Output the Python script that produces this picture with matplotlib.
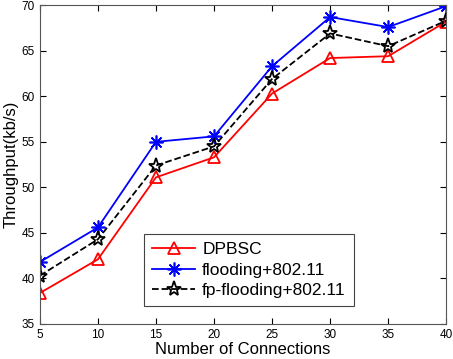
import matplotlib
matplotlib.use("Agg")
import matplotlib.pyplot as plt

plt.rcParams['font.family'] = ['Liberation Sans', 'DejaVu Sans']

connections = [5, 10, 15, 20, 25, 30, 35, 40]
dpbsc = [38.4, 42.1, 51.1, 53.3, 60.3, 64.2, 64.4, 68.2]
flooding = [41.8, 45.6, 55.0, 55.6, 63.3, 68.7, 67.6, 69.9]
fp_flooding = [40.3, 44.3, 52.4, 54.5, 61.9, 66.9, 65.5, 68.3]
labels = ['DPBSC', 'flooding+802.11', 'fp-flooding+802.11']

fig = plt.figure(figsize=(4.53, 3.59), dpi=100)
ax = fig.add_axes([0.088, 0.0975, 0.897, 0.888])

ax.plot(connections, dpbsc, color='red', marker='^', markersize=8,
        markerfacecolor='none', markeredgewidth=1.3, linewidth=1.3, label=labels[0])
ax.plot(connections, flooding, color='blue', marker=(8, 2, 0), markersize=10,
        markerfacecolor='none', markeredgewidth=1.2, linewidth=1.3, label=labels[1])
ax.plot(connections, fp_flooding, color='black', linestyle='--', marker='*', markersize=11,
        markerfacecolor='none', markeredgewidth=1.3, linewidth=1.3, label=labels[2])

ax.set_xlim(5, 40)
ax.set_ylim(35, 70)
ax.set_xticks(connections)
ax.set_yticks([35, 40, 45, 50, 55, 60, 65, 70])
ax.tick_params(direction='in', top=True, right=True, labelsize=8.5, length=4)
for s in ax.spines.values():
    s.set_color('#555555')
    s.set_linewidth(0.8)

ax.set_xlabel('Number of Connections', fontsize=12, labelpad=1)
ax.set_ylabel('Throughput(kb/s)', fontsize=12, labelpad=2)

leg = ax.legend(loc='lower left', bbox_to_anchor=(0.235, 0.03), fontsize=12.5,
                fancybox=False, framealpha=1, edgecolor='#444444',
                handlelength=2.5, borderpad=0.45, labelspacing=0.3, handletextpad=0.4)
leg.get_frame().set_linewidth(0.8)

fig.savefig('out.png', dpi=100)
